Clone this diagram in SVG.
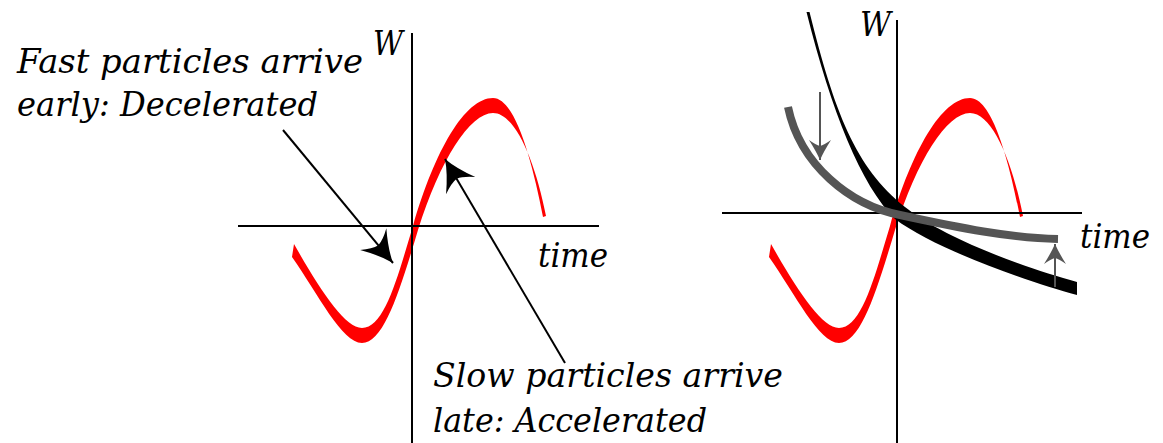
<svg xmlns="http://www.w3.org/2000/svg" width="1163" height="443" viewBox="0 0 1163 443">
<style>
.axis{stroke:#000;stroke-width:2;fill:none}
.lbl{font-family:"DejaVu Serif","Liberation Serif",serif;font-style:italic;font-size:34px;fill:#000}
.red{fill:#ff0000;stroke:none}
.ptr{stroke:#000;stroke-width:2;fill:none}
.gptr{stroke:#555;stroke-width:2;fill:none}
</style>
<defs>
<marker id="ah" viewBox="-33 -19 35 38" refX="0" refY="0" markerWidth="35" markerHeight="38" markerUnits="userSpaceOnUse" orient="auto">
<path d="M0,0 Q-14,-5 -31,-17 Q-24,-7 -23,0 Q-24,7 -31,17 Q-14,5 0,0 Z" fill="#000"/>
</marker>
<marker id="gh" viewBox="-22 -13 24 26" refX="0" refY="0" markerWidth="24" markerHeight="26" markerUnits="userSpaceOnUse" orient="auto">
<path d="M0,0 Q-9,-4 -20,-11 Q-15,-4 -14,0 Q-15,4 -20,11 Q-9,4 0,0 Z" fill="#555"/>
</marker>
<path id="wave" d="M292,257 C318,294 342,343 362,343 C384,343 400,290 418,230 C440,160 470,113 493,113 C515,113 535,160 546,216 L543,217 C532,160 515,98 493,98 C465,98 435,150 413,226 C398,275 385,328 362,328 C345,328 320,290 294,244 Z"/>
</defs>

<g id="left-plot">
<use href="#wave" class="red"/>
<line class="axis" x1="412" y1="33" x2="412" y2="443"/>
<line class="axis" x1="238" y1="226" x2="599" y2="226"/>
<text class="lbl" x="373" y="55" textLength="30" lengthAdjust="spacingAndGlyphs">W</text>
<text class="lbl" x="538" y="267" textLength="70" lengthAdjust="spacingAndGlyphs">time</text>
</g>

<g id="label-fast">
<text class="lbl" x="17" y="73" textLength="346" lengthAdjust="spacingAndGlyphs">Fast particles arrive</text>
<text class="lbl" x="17" y="116" textLength="301" lengthAdjust="spacingAndGlyphs">early: Decelerated</text>
</g>

<g id="label-slow">
<text class="lbl" x="433" y="387" textLength="350" lengthAdjust="spacingAndGlyphs">Slow particles arrive</text>
<text class="lbl" x="433" y="432" textLength="274" lengthAdjust="spacingAndGlyphs">late: Accelerated</text>
</g>

<g id="right-plot">
<use href="#wave" class="red" transform="translate(477,0)"/>
<line class="axis" x1="897" y1="20" x2="897" y2="443"/>
<line class="axis" x1="722" y1="213" x2="1082" y2="213"/>
<text class="lbl" x="860" y="36" textLength="31" lengthAdjust="spacingAndGlyphs">W</text>
<text class="lbl" x="1080" y="248" textLength="70" lengthAdjust="spacingAndGlyphs">time</text>
<path id="black-curve" d="M809.5,12 C834.5,112 855,167 905,207 C945,239 1027,268.5 1077,282 L1077,295 C1027,281.5 935,249 895,219 C861,185 831.5,112 806.5,12 Z" fill="#000"/>
<path id="gray-curve" d="M788,107 C800,165 850,205 900,215 C960,228 1010,238 1058,239" fill="none" stroke="#555" stroke-width="8"/>
</g>

<g id="connectors">
<path class="ptr" d="M283,130 L393,263" marker-end="url(#ah)"/>
<path class="ptr" d="M565,363 L445,159" marker-end="url(#ah)"/>
<path class="gptr" d="M820,92 L820,160" marker-end="url(#gh)"/>
<path class="gptr" d="M1055,287 L1055,244" marker-end="url(#gh)"/>
</g>
</svg>
